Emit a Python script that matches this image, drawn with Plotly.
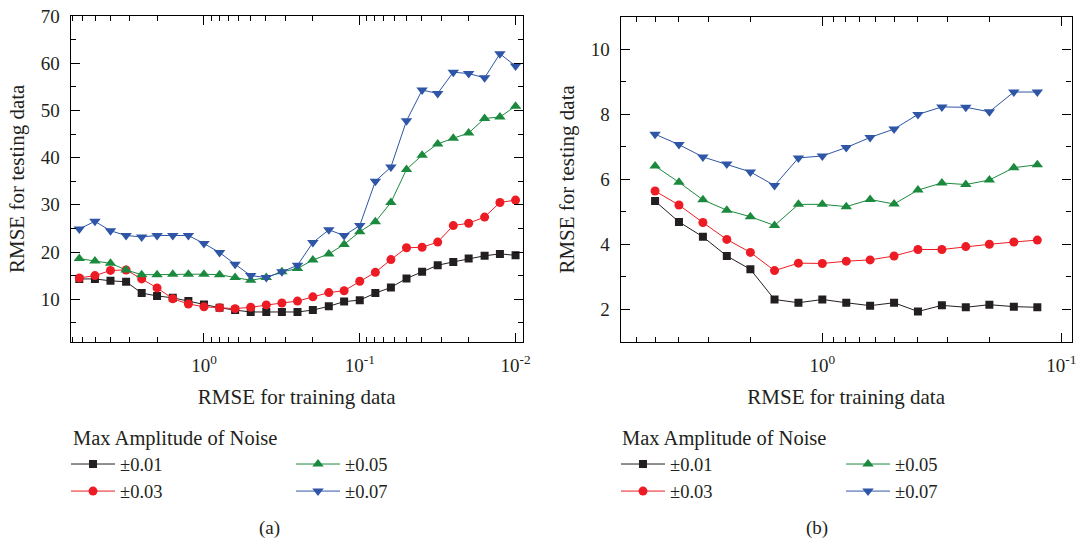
import plotly.graph_objects as go

# ---------------- data ----------------
series_names = ["±0.01", "±0.03", "±0.05", "±0.07"]
series_colors = ["#231f20", "#ed1c24", "#1b8a3e", "#2e55a6"]
series_symbols = ["square", "circle", "triangle-up", "triangle-down"]
series_sizes = [8, 9, 10, 10]

train_rmse_a = [6.31, 5.01, 3.98, 3.16, 2.51, 2.0, 1.585, 1.259, 1.0, 0.794,
                0.631, 0.501, 0.398, 0.316, 0.251, 0.2, 0.158, 0.126, 0.1, 0.0794,
                0.0631, 0.0501, 0.0398, 0.0316, 0.0251, 0.02, 0.0158, 0.0126, 0.01]
test_a_001 = [14.3, 14.3, 13.9, 13.7, 11.3, 10.7, 10.3, 9.6, 8.9, 8.2,
              7.7, 7.3, 7.3, 7.3, 7.3, 7.7, 8.5, 9.5, 9.8, 11.3,
              12.5, 14.4, 15.8, 17.2, 17.9, 18.6, 19.2, 19.6, 19.3]
test_a_003 = [14.5, 15.0, 16.1, 16.2, 14.3, 12.4, 10.1, 9.0, 8.4, 8.2,
              8.0, 8.3, 8.8, 9.2, 9.6, 10.5, 11.4, 11.8, 13.8, 15.7,
              18.4, 20.9, 21.0, 22.1, 25.6, 26.1, 27.4, 30.5, 31.0]
test_a_005 = [18.6, 18.1, 17.6, 16.2, 15.2, 15.2, 15.3, 15.3, 15.3, 15.2,
              14.6, 14.0, 14.6, 15.8, 16.5, 18.3, 19.6, 21.6, 24.3, 26.4,
              30.5, 37.5, 40.5, 42.9, 44.1, 45.2, 48.3, 48.6, 50.9]
test_a_007 = [24.9, 26.5, 24.5, 23.5, 23.2, 23.5, 23.5, 23.5, 21.8, 19.9,
              17.4, 15.0, 14.6, 15.8, 17.2, 22.0, 24.7, 23.5, 25.6, 35.0,
              38.0, 47.8, 54.3, 53.6, 58.1, 57.8, 56.9, 62.0, 59.4]

train_rmse_b = [5.01, 3.98, 3.16, 2.51, 2.0, 1.585, 1.259, 1.0, 0.794, 0.631,
                0.501, 0.398, 0.316, 0.251, 0.2, 0.158, 0.126]
test_b_001 = [5.33, 4.69, 4.23, 3.64, 3.23, 2.30, 2.20, 2.30, 2.20, 2.11,
              2.20, 1.93, 2.12, 2.06, 2.14, 2.08, 2.06]
test_b_003 = [5.64, 5.21, 4.67, 4.15, 3.75, 3.19, 3.42, 3.41, 3.48, 3.52,
              3.64, 3.84, 3.84, 3.93, 4.00, 4.07, 4.13]
test_b_005 = [6.41, 5.91, 5.37, 5.05, 4.85, 4.58, 5.23, 5.23, 5.16, 5.38,
              5.24, 5.67, 5.89, 5.84, 5.98, 6.36, 6.45]
test_b_007 = [7.39, 7.07, 6.69, 6.47, 6.23, 5.81, 6.66, 6.72, 6.98, 7.29,
              7.55, 8.00, 8.23, 8.22, 8.08, 8.69, 8.69]

x_major_a = [1, 0.1, 0.01]
x_major_text_a = ["10<sup>0</sup>", "10<sup>-1</sup>", "10<sup>-2</sup>"]
x_major_b = [1, 0.1]
x_major_text_b = ["10<sup>0</sup>", "10<sup>-1</sup>"]
y_major_a = [10, 20, 30, 40, 50, 60, 70]
y_minor_a = [5, 15, 25, 35, 45, 55, 65]
y_major_b = [2, 4, 6, 8, 10]
y_minor_b = [3, 5, 7, 9]

x_title = "RMSE for training data"
y_title = "RMSE for testing data"
legend_title = "Max Amplitude of Noise"
panel_labels = ["(a)", "(b)"]

FONT = "Liberation Serif"
TXT = "#231f20"

fig = go.Figure()

panel_a = [test_a_001, test_a_003, test_a_005, test_a_007]
panel_b = [test_b_001, test_b_003, test_b_005, test_b_007]
# legend columns: first column holds ±0.01, ±0.03; second ±0.05, ±0.07
legends_a = ["legend", "legend", "legend2", "legend2"]
legends_b = ["legend3", "legend3", "legend4", "legend4"]

for i in range(4):
    fig.add_trace(go.Scatter(
        x=train_rmse_a, y=panel_a[i], name=series_names[i],
        mode="lines+markers", xaxis="x", yaxis="y", legend=legends_a[i],
        line=dict(color=series_colors[i], width=1),
        marker=dict(symbol=series_symbols[i], size=series_sizes[i],
                    color=series_colors[i], line=dict(width=0)),
    ))
for i in range(4):
    fig.add_trace(go.Scatter(
        x=train_rmse_b, y=panel_b[i], name=series_names[i],
        mode="lines+markers", xaxis="x2", yaxis="y2", legend=legends_b[i],
        line=dict(color=series_colors[i], width=1),
        marker=dict(symbol=series_symbols[i], size=series_sizes[i],
                    color=series_colors[i], line=dict(width=0)),
    ))


def log_minor(lo_exp, hi_exp):
    vals = []
    for e in range(lo_exp, hi_exp + 1):
        for m in range(2, 10):
            vals.append(m * 10 ** e)
    return vals


axis_common = dict(
    showline=True, linecolor="black", linewidth=1.3, mirror="ticks",
    ticks="inside", ticklen=9, tickwidth=1.2, tickcolor="black",
    showgrid=False, zeroline=False, automargin=False,
    ticklabeloverflow="allow",
    tickfont=dict(family=FONT, size=19, color=TXT),
)


def minor_cfg(vals):
    return dict(tickmode="array", tickvals=vals, ticks="inside",
                ticklen=5, tickwidth=1, tickcolor="black", showgrid=False)


def legend_cfg(x_px, y_px):
    return dict(
        orientation="v", x=x_px / 1076, y=1 - y_px / 540,
        xanchor="left", yanchor="top",
        itemwidth=44, bgcolor="rgba(0,0,0,0)", borderwidth=0,
        traceorder="normal", tracegroupgap=0,
        font=dict(family=FONT, size=18.5, color=TXT),
    )


fig.update_layout(
    width=1076, height=540,
    margin=dict(l=0, r=0, t=0, b=0, autoexpand=False),
    paper_bgcolor="white", plot_bgcolor="white",
    font=dict(family=FONT, color=TXT),
    xaxis=dict(
        type="log", domain=[0.0656, 0.4858], anchor="y",
        range=[0.856, -2.046],
        tickmode="array", tickvals=x_major_a, ticktext=x_major_text_a,
        ticklabelstandoff=6, minor=minor_cfg(log_minor(-3, 0)),
        title=dict(text=x_title, font=dict(family=FONT, size=21), standoff=14),
        **axis_common,
    ),
    yaxis=dict(
        domain=[0.3672, 0.9704], anchor="x",
        range=[1, 70],
        tickmode="array", tickvals=y_major_a,
        ticklabelstandoff=6, minor=minor_cfg(y_minor_a),
        title=dict(text=y_title, font=dict(family=FONT, size=21), standoff=10),
        **axis_common,
    ),
    xaxis2=dict(
        type="log", domain=[0.5769, 0.9959], anchor="y2",
        range=[0.8435, -1.043],
        tickmode="array", tickvals=x_major_b, ticktext=x_major_text_b,
        ticklabelstandoff=6, minor=minor_cfg(log_minor(-2, 0)),
        title=dict(text=x_title, font=dict(family=FONT, size=21), standoff=14),
        **axis_common,
    ),
    yaxis2=dict(
        domain=[0.3672, 0.9685], anchor="x2",
        range=[1, 11],
        tickmode="array", tickvals=y_major_b,
        ticklabelstandoff=6, minor=minor_cfg(y_minor_b),
        title=dict(text=y_title, font=dict(family=FONT, size=21), standoff=10),
        **axis_common,
    ),
    legend=legend_cfg(66, 445.5),
    legend2=legend_cfg(291, 445.5),
    legend3=legend_cfg(616, 445.5),
    legend4=legend_cfg(841, 445.5),
    annotations=[
        dict(text=legend_title, x=71 / 1076, y=1 - 438.7 / 540,
             xref="paper", yref="paper", xanchor="left", yanchor="middle",
             showarrow=False, font=dict(family=FONT, size=20.5, color=TXT)),
        dict(text=legend_title, x=620 / 1076, y=1 - 438.7 / 540,
             xref="paper", yref="paper", xanchor="left", yanchor="middle",
             showarrow=False, font=dict(family=FONT, size=20.5, color=TXT)),
        dict(text=panel_labels[0], x=269 / 1076, y=1 - 527.5 / 540,
             xref="paper", yref="paper", xanchor="center", yanchor="middle",
             showarrow=False, font=dict(family=FONT, size=19, color=TXT)),
        dict(text=panel_labels[1], x=817 / 1076, y=1 - 527.5 / 540,
             xref="paper", yref="paper", xanchor="center", yanchor="middle",
             showarrow=False, font=dict(family=FONT, size=19, color=TXT)),
    ],
)

fig.write_html("out.html")
